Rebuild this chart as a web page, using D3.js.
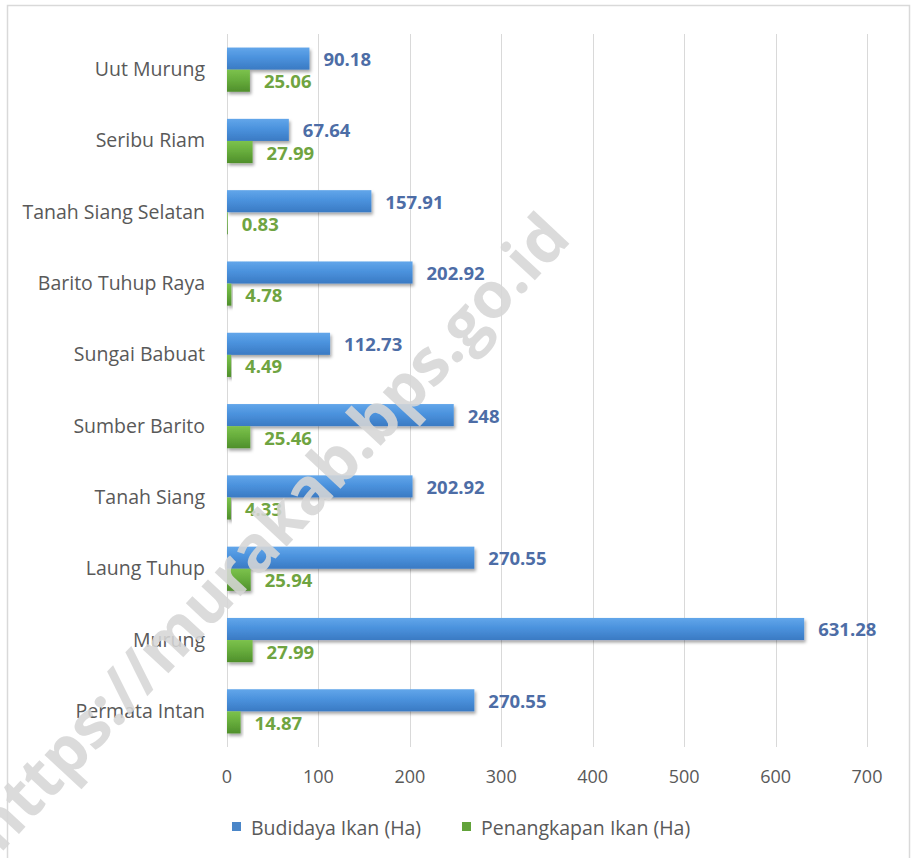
<!DOCTYPE html>
<html>
<head>
<meta charset="utf-8">
<script src="https://cdn.jsdelivr.net/npm/d3@7/dist/d3.min.js"></script>
<style>
  html, body { margin: 0; padding: 0; background: #fff; }
  svg { display: block; font-family: "Open Sans", "Noto Sans", sans-serif; }
</style>
</head>
<body>
<svg id="chart" width="915" height="858"></svg>
<script>
// chart data
var categories = ["Uut Murung", "Seribu Riam", "Tanah Siang Selatan", "Barito Tuhup Raya",
  "Sungai Babuat", "Sumber Barito", "Tanah Siang", "Laung Tuhup", "Murung", "Permata Intan"];
var budidaya = [90.18, 67.64, 157.91, 202.92, 112.73, 248, 202.92, 270.55, 631.28, 270.55];
var penangkapan = [25.06, 27.99, 0.83, 4.78, 4.49, 25.46, 4.33, 25.94, 27.99, 14.87];
var seriesNames = ["Budidaya Ikan (Ha)", "Penangkapan Ikan (Ha)"];
var xTicks = [0, 100, 200, 300, 400, 500, 600, 700];
var watermark = "https://murakab.bps.go.id";

var svg = d3.select("#chart");

/** layout */
var plot = {left: 227, right: 867, top: 34, bottom: 747};
var blueLabel = "#4d6da6", greenLabel = "#6fa441", textGray = "#595959";

var x = d3.scaleLinear().domain([0, 700]).range([plot.left, plot.right]);
var y = d3.scaleBand().domain(categories).range([plot.top, plot.bottom])
  .paddingInner(0.38).paddingOuter(0.19);
var sub = d3.scaleBand().domain([0, 1]).range([0, y.bandwidth()]);

// gradients + shadow
var defs = svg.append("defs");
function grad(id, stops){
  var g = defs.append("linearGradient").attr("id", id)
    .attr("x1", 0).attr("y1", 0).attr("x2", 0).attr("y2", 1);
  stops.forEach(function(s){ g.append("stop").attr("offset", s[0]).attr("stop-color", s[1]); });
}
grad("g-blue", [[0, "#62a6ea"], [0.45, "#4b92dd"], [1, "#3a7ac3"]]);
grad("g-green", [[0, "#7cc24c"], [0.45, "#68ae3d"], [1, "#4f8f2b"]]);
var f = defs.append("filter").attr("id", "shadow")
  .attr("x", "-10%").attr("y", "-30%").attr("width", "130%").attr("height", "180%");
f.append("feDropShadow").attr("dx", 1.5).attr("dy", 2.5).attr("stdDeviation", 1.6)
  .attr("flood-color", "#000").attr("flood-opacity", 0.35);

// outer border
svg.append("rect").attr("x", 7.5).attr("y", 5.5).attr("width", 902).attr("height", 870)
  .attr("fill", "none").attr("stroke", "#d9d9d9").attr("stroke-width", 1.5);

// gridlines
svg.append("g").selectAll("line").data(xTicks).join("line")
  .attr("x1", function(d){ return Math.round(x(d)) + 0.5; })
  .attr("x2", function(d){ return Math.round(x(d)) + 0.5; })
  .attr("y1", plot.top).attr("y2", plot.bottom)
  .attr("stroke", "#d9d9d9").attr("stroke-width", 1);

// x tick labels
svg.append("g").selectAll("text").data(xTicks).join("text")
  .attr("x", function(d){ return x(d); }).attr("y", 776)
  .attr("text-anchor", "middle").attr("dominant-baseline", "central")
  .attr("font-size", 18).attr("fill", textGray)
  .text(function(d){ return d; });

// category labels
svg.append("g").selectAll("text").data(categories).join("text")
  .attr("x", 205).attr("y", function(d){ return y(d) + y.bandwidth() / 2 - 1; })
  .attr("text-anchor", "end").attr("dominant-baseline", "central")
  .attr("font-size", 19.5).attr("fill", textGray)
  .text(function(d){ return d; });

// bars
var series = [
  {values: budidaya, fill: "url(#g-blue)", label: blueLabel},
  {values: penangkapan, fill: "url(#g-green)", label: greenLabel}
];
series.forEach(function(s, i){
  var g = svg.append("g");
  g.selectAll("rect").data(s.values).join("rect")
    .attr("x", x(0))
    .attr("y", function(d, k){ return y(categories[k]) + sub(i); })
    .attr("width", function(d){ return x(d) - x(0); })
    .attr("height", sub.bandwidth())
    .attr("fill", s.fill)
    .attr("filter", "url(#shadow)");
  g.selectAll("text").data(s.values).join("text")
    .attr("x", function(d){ return x(d) + 14; })
    .attr("y", function(d, k){ return y(categories[k]) + sub(i) + sub.bandwidth() / 2; })
    .attr("dominant-baseline", "central")
    .attr("font-size", 18.5).attr("font-weight", 700).attr("fill", s.label)
    .text(function(d){ return d; });
});

// legend
var legend = svg.append("g");
var legendX = [232, 462];
var legendCol = ["#4a86c8", "#62a33a"];
seriesNames.forEach(function(n, i){
  legend.append("rect").attr("x", legendX[i]).attr("y", 822).attr("width", 9).attr("height", 9)
    .attr("fill", legendCol[i]);
  legend.append("text").attr("x", legendX[i] + 19).attr("y", 827)
    .attr("dominant-baseline", "central").attr("font-size", 19.5).attr("fill", textGray)
    .text(n);
});

// watermark
var wm = svg.append("text")
  .attr("text-anchor", "middle").attr("dominant-baseline", "central")
  .attr("font-size", 60).attr("font-weight", 700)
  .attr("fill", "#d6d6d6").attr("fill-opacity", 0.88)
  .attr("transform", "translate(268,530) rotate(-47)")
  .text(watermark);
var len = wm.node().getComputedTextLength();
wm.attr("font-size", 60 * 840 / len);
</script>
</body>
</html>
